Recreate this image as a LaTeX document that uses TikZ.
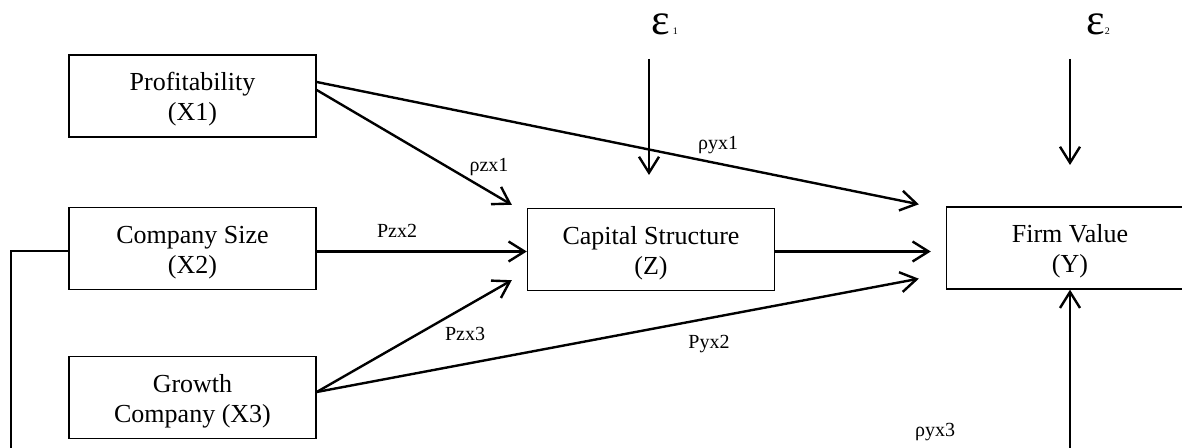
\documentclass[tikz,border=0pt]{standalone}
\usepackage{fontspec}
\setmainfont{Liberation Serif}
\usetikzlibrary{arrows.meta,calc}
\begin{document}
\begin{tikzpicture}[x=0.5pt,y=-0.5pt,
  box/.style={draw=black, line width=0.7pt, minimum width=123.5pt, minimum height=41pt,
    inner sep=0pt, align=center, font=\fontsize{13}{15}\selectfont, text height=27.5pt, text depth=2.8pt},
  conn/.style={line width=1.2pt, -{Straight Barb[length=8pt,width=10pt]}},
  lbl/.style={anchor=base, inner sep=0pt, font=\fontsize{10}{12}\selectfont},
  eps/.style={anchor=base west, inner sep=0pt}]
\useasboundingbox (0,0) rectangle (1182,448);
\clip (0,0) rectangle (1182,448);
% boxes
\node[box] (X1) at (192.5,96) {Profitability\\(X1)};
\node[box] (X2) at (192.5,248.5) {Company Size\\(X2)};
\node[box] (X3) at (192.5,397.5) {Growth\\Company (X3)};
\node[box] (Z) at (651,249.5) {Capital Structure\\(Z)};
\node[box] (Y) at (1070,248) {Firm Value\\(Y)};
% error terms
\node[eps] (e1) at (651,35) {\fontsize{22}{22}\selectfont ε\kern1.5pt\fontsize{5}{5}\selectfont 1};
\node[eps] (e2) at (1086,35) {\fontsize{22}{22}\selectfont ε\fontsize{5}{5}\selectfont 2};
\coordinate (e1a) at (649,59);
\coordinate (e1b) at (649,175);
\coordinate (e2a) at (1070,59);
\coordinate (e2b) at (1070,165);
\coordinate (loop) at (11,490);
% connectors
\draw[conn] ([yshift=7pt]X1.east) -- ($(Y.north west)+(-27,-2)$);
\draw[conn] ([yshift=3pt]X1.east) -- ($(Z.north west)+(-15,-3)$);
\draw[conn] ([yshift=-1.5pt]X2.east) -- ($(Z.west)+(0,2)$);
\draw[conn] ($(Z.east)+(0,2)$) -- ($(Z.east -| Y.west)+(-15,2)$);
\draw[conn] ($(X3.east)+(0,-5.5)$) -- ($(Z.south west)+(-15,-11)$);
\draw[conn] ($(X3.east)+(0,-5.5)$) -- ($(Y.south west)+(-27,-11)$);
\draw[conn] ($(X2.west)+(0,2.5)$) -| (loop) -| (Y.south);
\draw[conn] (e1a) -- (e1b);
\draw[conn] (e2a) -- (e2b);
% labels
\node[lbl] (l1) at (489,172) {ρzx1};
\node[lbl] (l2) at (397,238) {Pzx2};
\node[lbl] (l3) at (718,150) {ρyx1};
\node[lbl] (l4) at (465,341) {Pzx3};
\node[lbl] (l5) at (709,349) {Pyx2};
\node[lbl] (l6) at (935,436) {ρyx3};
\end{tikzpicture}
\end{document}
